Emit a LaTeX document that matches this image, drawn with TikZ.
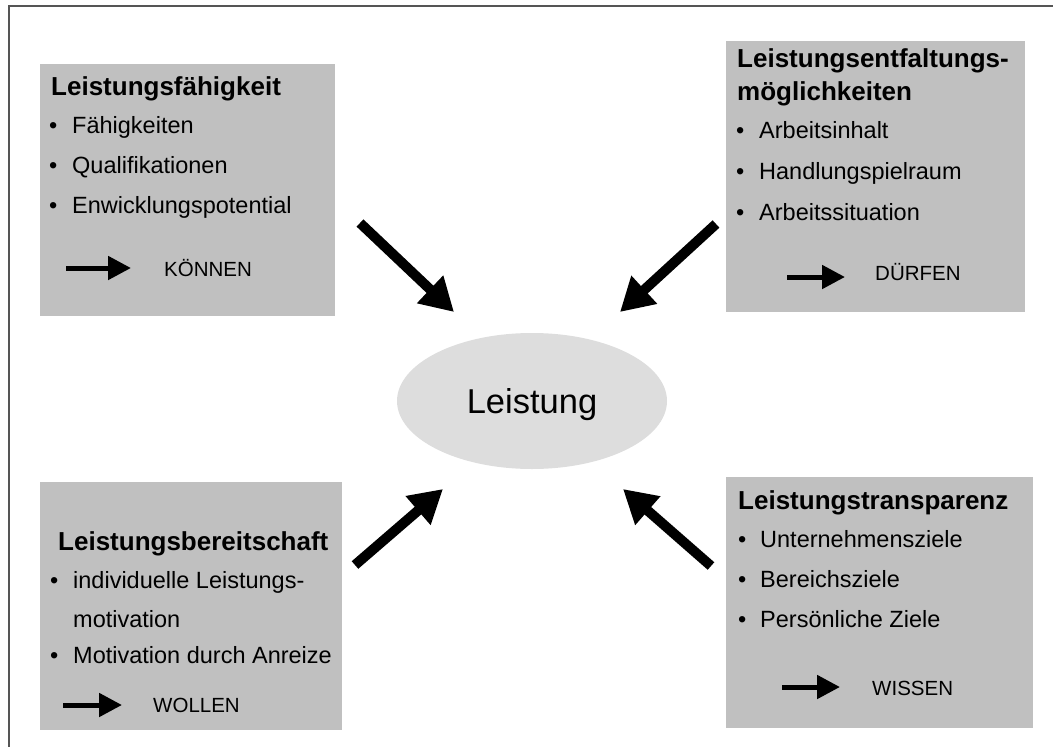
\documentclass[tikz,border=0pt]{standalone}
\usepackage{fontspec}
\setmainfont{Liberation Sans}
\usetikzlibrary{arrows.meta,shapes.geometric}
\definecolor{panelgray}{HTML}{C0C0C0}
\definecolor{ovalgray}{HTML}{DDDDDD}
\definecolor{framegray}{HTML}{555555}

\begin{document}
\begin{tikzpicture}[x=1pt,y=-1pt,
  panel/.style={fill=panelgray, draw=none, anchor=north west, inner sep=0pt},
  heading/.style={anchor=base west, inner sep=0pt, font=\fontsize{26}{30}\selectfont\bfseries},
  item/.style={anchor=base west, inner sep=0pt, font=\fontsize{23.5}{28}\selectfont},
  tag/.style={anchor=base west, inner sep=0pt, font=\fontsize{20.5}{24}\selectfont},
  bigarrow/.style={line width=10pt, -{Triangle[length=33pt,width=36pt]}},
  smallarrow/.style={line width=5pt, -{Triangle[length=23pt,width=23pt]}},
]
\useasboundingbox (0,0) rectangle (1053,747);

% outer frame (top and left edges)
\coordinate (fA) at (9,747);
\coordinate (fB) at (9,6);
\coordinate (fC) at (1053,6);
\draw[framegray, line width=1.5pt] (fA) -- (fB) -- (fC);

% four panels
\node[panel, minimum width=295pt, minimum height=252pt] (p1) at (40,64) {};
\node[panel, minimum width=299pt, minimum height=271pt] (p2) at (726,41) {};
\node[panel, minimum width=302pt, minimum height=248pt] (p3) at (40,482) {};
\node[panel, minimum width=307pt, minimum height=251pt] (p4) at (726,477) {};

% central oval
\node[ellipse, fill=ovalgray, inner sep=0pt, minimum width=270pt, minimum height=136pt,
      font=\fontsize{34.5}{40}\selectfont, text height=25pt, text depth=0pt] (perf) at (532,401) {Leistung};

% panel 1
\node[heading] (h1) at (51,95) {Leistungsfähigkeit};
\node[item] (b1a) at (49,133) {•};
\node[item] (t1a) at (72,133) {Fähigkeiten};
\node[item] (b1b) at (49,173) {•};
\node[item] (t1b) at (72,173) {Qualifikationen};
\node[item] (b1c) at (49,213) {•};
\node[item] (t1c) at (72,213) {Enwicklungspotential};
\coordinate (s1a) at (66,268);
\coordinate (s1b) at (131,268);
\draw[smallarrow] (s1a) -- (s1b);
\node[tag] (k1) at (164,276) {KÖNNEN};

% panel 2
\node[heading] (h2a) at (737,67) {Leistungsentfaltungs-};
\node[heading] (h2b) at (737,100) {möglichkeiten};
\node[item] (b2a) at (736,138) {•};
\node[item] (t2a) at (759,138) {Arbeitsinhalt};
\node[item] (b2b) at (736,179) {•};
\node[item] (t2b) at (759,179) {Handlungspielraum};
\node[item] (b2c) at (736,220) {•};
\node[item] (t2c) at (759,220) {Arbeitssituation};
\coordinate (s2a) at (787,277);
\coordinate (s2b) at (845,277);
\draw[smallarrow] (s2a) -- (s2b);
\node[tag] (k2) at (875,280) {DÜRFEN};

% panel 3
\node[heading] (h3) at (58,550) {Leistungsbereitschaft};
\node[item] (b3a) at (50,588) {•};
\node[item] (t3a) at (73,588) {individuelle Leistungs-};
\node[item] (t3b) at (73,627) {motivation};
\node[item] (b3c) at (50,663) {•};
\node[item] (t3c) at (73,663) {Motivation durch Anreize};
\coordinate (s3a) at (63,705);
\coordinate (s3b) at (122,705);
\draw[smallarrow] (s3a) -- (s3b);
\node[tag] (k3) at (153,712) {WOLLEN};

% panel 4
\node[heading] (h4) at (738,509) {Leistungstransparenz};
\node[item] (b4a) at (738,547) {•};
\node[item] (t4a) at (760,547) {Unternehmensziele};
\node[item] (b4b) at (738,587) {•};
\node[item] (t4b) at (760,587) {Bereichsziele};
\node[item] (b4c) at (738,627) {•};
\node[item] (t4c) at (760,627) {Persönliche Ziele};
\coordinate (s4a) at (782,687);
\coordinate (s4b) at (840,687);
\draw[smallarrow] (s4a) -- (s4b);
\node[tag] (k4) at (872,695) {WISSEN};

% arrows pointing towards the oval
\coordinate (a1s) at (360,223);
\coordinate (a1e) at (454,312);
\coordinate (a2s) at (716,224);
\coordinate (a2e) at (620,312);
\coordinate (a3s) at (355,565);
\coordinate (a3e) at (443,489);
\coordinate (a4s) at (711,566);
\coordinate (a4e) at (623,489);
\draw[bigarrow] (a1s) -- (a1e);
\draw[bigarrow] (a2s) -- (a2e);
\draw[bigarrow] (a3s) -- (a3e);
\draw[bigarrow] (a4s) -- (a4e);
\end{tikzpicture}
\end{document}
